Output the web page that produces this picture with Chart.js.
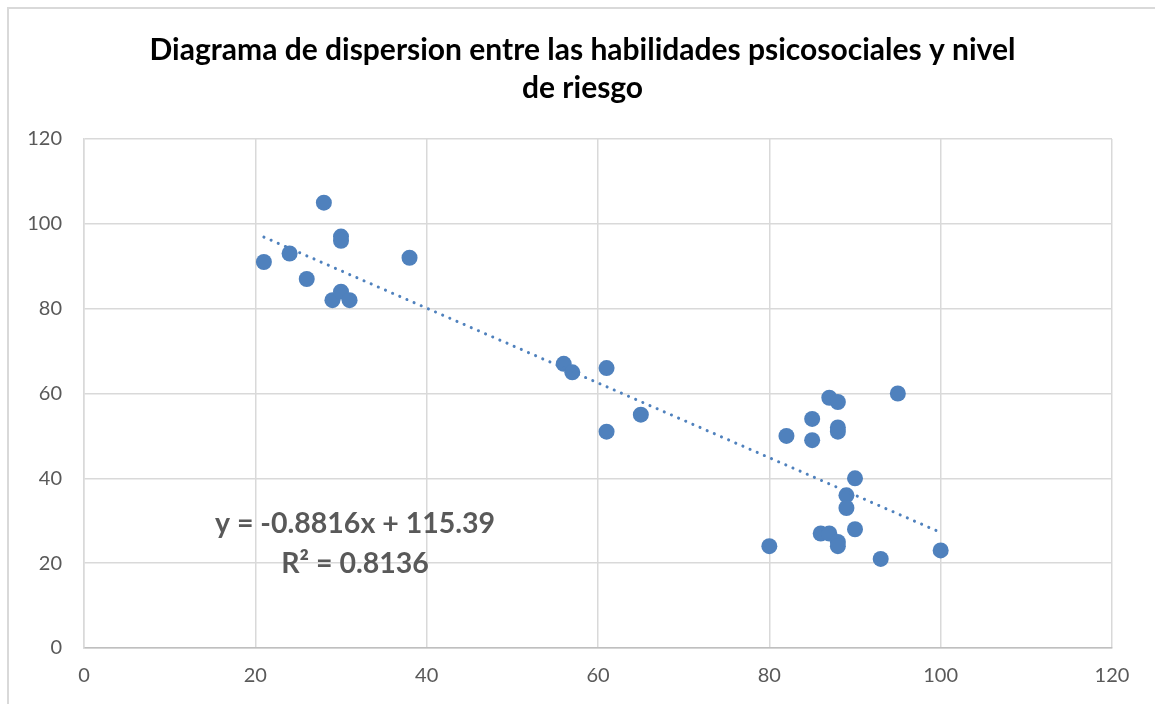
<!DOCTYPE html>
<html>
<head>
<meta charset="utf-8">
<script src="https://cdn.jsdelivr.net/npm/chart.js@4.4.1/dist/chart.umd.min.js"></script>
<style>
  body { margin: 0; background: #fff; }
  #frame { position: absolute; left: 7px; top: 7px; right: -5px; bottom: -5px; border: 2px solid #d9d9d9; }
  canvas { position: absolute; left: 0; top: 0; }
</style>
</head>
<body>
<div id="frame"></div>
<canvas id="dispersion" width="1155" height="704"></canvas>
<script>
// habilidades psicosociales (x) vs nivel de riesgo (y)
var habilidades = [21, 24, 26, 28, 30, 30, 29, 30, 31, 38,
                   56, 57, 61, 61, 65,
                   80, 82, 85, 85, 87, 88, 88, 88, 95, 90, 89, 89, 90, 86, 87, 88, 88, 93, 100];
var riesgo      = [91, 93, 87, 105, 97, 96, 82, 84, 82, 92,
                   67, 65, 66, 51, 55,
                   24, 50, 54, 49, 59, 58, 52, 51, 60, 40, 36, 33, 28, 27, 27, 25, 24, 21, 23];
var axisTicks = [0, 20, 40, 60, 80, 100, 120];

// tendencia lineal (como la muestra el grafico)
var slope = -0.8816;
var intercept = 115.39;
var rSquared = 0.8136;

var titleLines = ["Diagrama de dispersion entre las habilidades psicosociales y nivel", "de riesgo"];

var blue = "rgb(79,129,189)";
var textGray = "#595959";

var points = habilidades.map(function(x, i){ return {x: x, y: riesgo[i]}; });
var xMin = Math.min.apply(null, habilidades);
var xMax = Math.max.apply(null, habilidades);
var trend = [
  {x: xMin, y: slope * xMin + intercept},
  {x: xMax, y: slope * xMax + intercept}
];

// titulo (dibujado a mano para centrarlo como en el original)
var chartTitle = {
  id: 'chartTitle',
  afterDraw: function(chart){
    var ctx = chart.ctx;
    ctx.save();
    ctx.font = "bold 30px Lato";
    ctx.fillStyle = "#000";
    ctx.textAlign = "center";
    ctx.textBaseline = "middle";
    titleLines.forEach(function(line, i){
      ctx.fillText(line, 582.5, 50 + i * 38);
    });
    ctx.restore();
  }
};

// texto de la ecuacion
var equationLabel = {
  id: 'equationLabel',
  afterDatasetsDraw: function(chart){
    var ctx = chart.ctx;
    var a = chart.chartArea;
    ctx.save();
    ctx.font = "bold 28.5px Lato";
    ctx.fillStyle = textGray;
    ctx.textAlign = "center";
    ctx.textBaseline = "middle";
    var cx = a.left + 271;
    ctx.fillText("y = " + slope + "x + " + intercept, cx, 524);
    ctx.fillText("R\u00b2 = " + rSquared, cx, 564);
    ctx.restore();
  }
};

var ctx = document.getElementById("dispersion").getContext("2d");
var chart = new Chart(ctx, {
  type: 'scatter',
  data: {
    datasets: [
      {
        label: "Tendencia",
        type: 'line',
        data: trend,
        borderColor: blue,
        borderWidth: 3,
        borderDash: [0.1, 7.7],
        borderCapStyle: 'round',
        pointRadius: 0,
        fill: false,
        order: 0
      },
      {
        label: "Riesgo",
        data: points,
        backgroundColor: blue,
        borderColor: blue,
        borderWidth: 0,
        pointRadius: 8,
        order: 1
      }
    ]
  },
  options: {
    responsive: false,
    animation: false,
    layout: { padding: { top: 139, right: 43, bottom: 0, left: 0 } },
    plugins: {
      legend: { display: false },
      tooltip: { enabled: false },
      title: { display: false }
    },
    scales: {
      x: {
        type: 'linear',
        min: 0,
        max: 120,
        afterBuildTicks: function(scale){ scale.ticks = axisTicks.map(function(v){ return {value: v}; }); },
        afterFit: function(scale){ scale.height = 56; },
        grid: { color: "#d9d9d9", lineWidth: 1.5, drawTicks: false },
        border: { color: "#bfbfbf", width: 1.5 },
        ticks: { color: textGray, font: { family: "Lato", size: 20 }, padding: 16 }
      },
      y: {
        type: 'linear',
        min: 0,
        max: 120,
        afterBuildTicks: function(scale){ scale.ticks = axisTicks.map(function(v){ return {value: v}; }); },
        afterFit: function(scale){ scale.width = 84; },
        grid: { color: "#d9d9d9", lineWidth: 1.5, drawTicks: false },
        border: { color: "#d9d9d9", width: 1.5 },
        ticks: { color: textGray, font: { family: "Lato", size: 20 }, padding: 22 }
      }
    }
  },
  plugins: [chartTitle, equationLabel]
});
</script>
</body>
</html>
